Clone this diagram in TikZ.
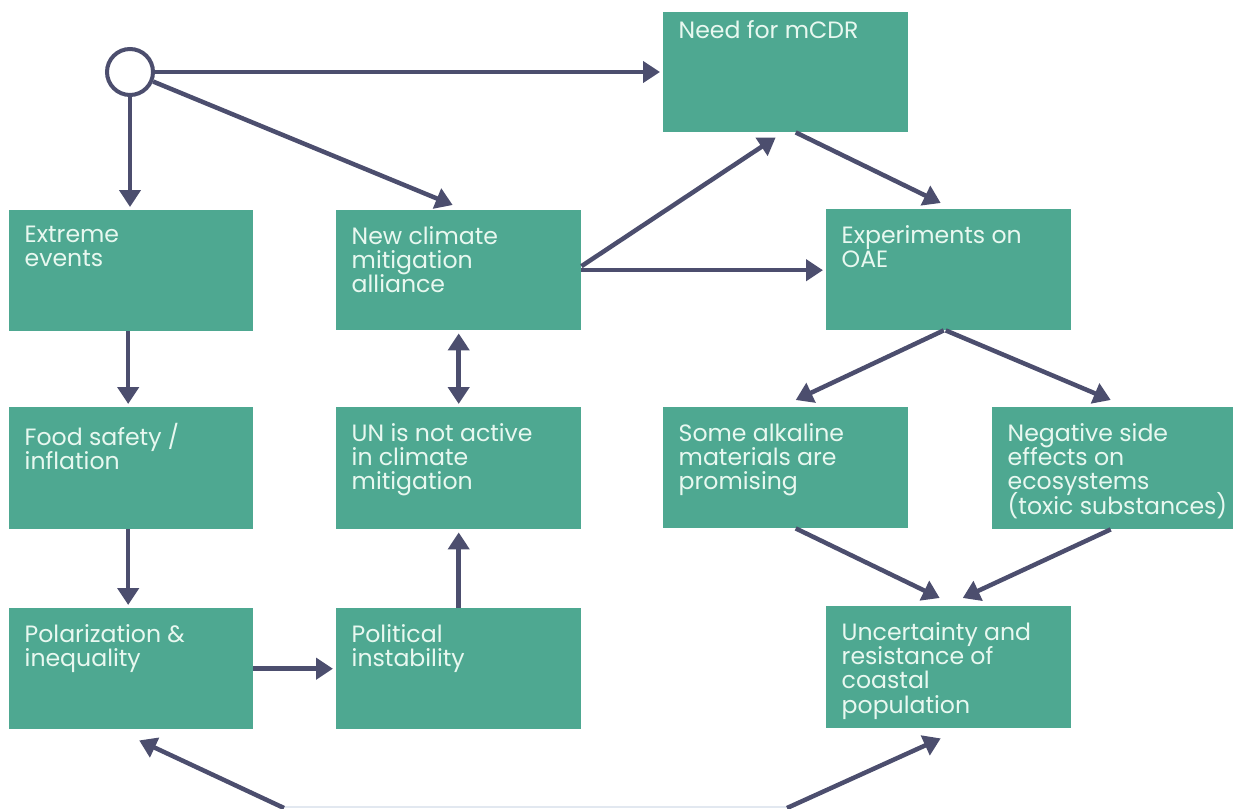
\documentclass[tikz,border=0pt]{standalone}
\usepackage{fontspec}
\setmainfont{Poppins}
\usetikzlibrary{arrows.meta}

\definecolor{boxfill}{RGB}{78,168,145}
\definecolor{boxtext}{RGB}{232,248,240}
\definecolor{linkcol}{RGB}{76,78,110}
\definecolor{edgecol}{RGB}{226,232,240}

% Top-left aligned text block of fixed size: width, height, top padding, text
\newcommand\boxtext[4]{%
  \parbox[t][#2pt][t]{#1pt}{\vspace*{#3pt}\lineskiplimit=-30pt\leftskip=15.5pt
    \rightskip=0pt plus 1fil\relax #4}}

\tikzset{
  flowbox/.style={fill=boxfill, text=boxtext, inner sep=0pt, anchor=north west,
    font=\fontsize{23.6}{24.3}\selectfont},
  link/.style={draw=linkcol, line width=4.5pt,
    -{Triangle[length=17pt,width=21pt]}},
  gap/.style={shorten >=3pt},
  twoway/.style={link, {Triangle[length=17pt,width=21pt]}-{Triangle[length=17pt,width=21pt]},
    shorten <=3pt, shorten >=3pt},
  hub/.style={circle, draw=linkcol, line width=4pt, fill=white,
    minimum size=46pt, inner sep=0pt},
}

\begin{document}
\begin{tikzpicture}[x=1pt, y=-1pt]
\useasboundingbox (0,0) rectangle (1233,808);

% faint edge along the bottom
\draw[edgecol, line width=1.2pt] (283,807) -- (787,807);

% boxes
\node[flowbox] (mcdr)  at (663,12)  {\boxtext{245}{120}{8.5}{Need for mCDR}};
\node[flowbox] (ext)   at (9,210)   {\boxtext{244}{121}{16}{Extreme\\events}};
\node[flowbox] (ncma)  at (336,210) {\boxtext{245}{120}{16}{New climate\\mitigation\\alliance}};
\node[flowbox] (exp)   at (826,209) {\boxtext{245}{121}{16}{Experiments on\\OAE}};
\node[flowbox] (food)  at (9,407)   {\boxtext{244}{122}{16}{Food safety /\\inflation}};
\node[flowbox] (un)    at (336,407) {\boxtext{245}{122}{16}{UN is not active\\in climate\\mitigation}};
\node[flowbox] (alk)   at (663,407) {\boxtext{245}{121}{16}{Some alkaline\\materials are\\promising}};
\node[flowbox] (neg)   at (992,407) {\boxtext{241}{122}{16}{Negative side\\effects on\\ecosystems\\(toxic substances)}};
\node[flowbox] (pol)   at (9,608)   {\boxtext{244}{121}{16}{Polarization \&\\inequality}};
\node[flowbox] (polit) at (336,608) {\boxtext{245}{121}{16}{Political\\instability}};
\node[flowbox] (unc)   at (826,606) {\boxtext{245}{122}{16}{Uncertainty and\\resistance of\\coastal\\population}};

% starting point
\node[hub] (hub) at (130,72) {};

% free ends at the bottom edge
\coordinate (bl) at (284,808);
\coordinate (br) at (787,808);

% connectors
\draw[link, gap] (hub) -- (hub -| mcdr.west);
\draw[link, gap] (hub) -- (hub |- ext.north);
\draw[link] (hub) -- ([xshift=-6pt,yshift=5pt]ncma.north);
\draw[link, gap] ([xshift=-3pt]ext.south) -- ([xshift=-3pt]food.north);
\draw[link, gap] ([xshift=-3pt]food.south) -- ([xshift=-3pt]pol.north);
\draw[link, gap] (pol.east) -- (pol.east -| polit.west);
\draw[link, gap] (polit.north) -- (un.south);
\draw[twoway] (ncma.south) -- (un.north);
\draw[link] ([yshift=4pt]ncma.east) -- ([xshift=-10pt,yshift=-5pt]mcdr.south);
\draw[link, gap] (ncma.east) -- (ncma.east -| exp.west);
\draw[link] ([xshift=10pt]mcdr.south) -- ([xshift=-8pt,yshift=6pt]exp.north);
\draw[link] ([xshift=-5pt]exp.south) -- ([xshift=10pt,yshift=7pt]alk.north);
\draw[link] ([xshift=-3pt]exp.south) -- ([xshift=-2pt,yshift=7pt]neg.north);
\draw[link] ([xshift=10pt]alk.south) -- ([xshift=-9pt,yshift=8pt]unc.north);
\draw[link] ([xshift=-2pt]neg.south) -- ([xshift=14pt,yshift=8pt]unc.north);
\draw[link] (bl) -- ([xshift=8pt,yshift=-11pt]pol.south);
\draw[link] (br) -- ([xshift=-8pt,yshift=-10pt]unc.south);
\end{tikzpicture}
\end{document}
